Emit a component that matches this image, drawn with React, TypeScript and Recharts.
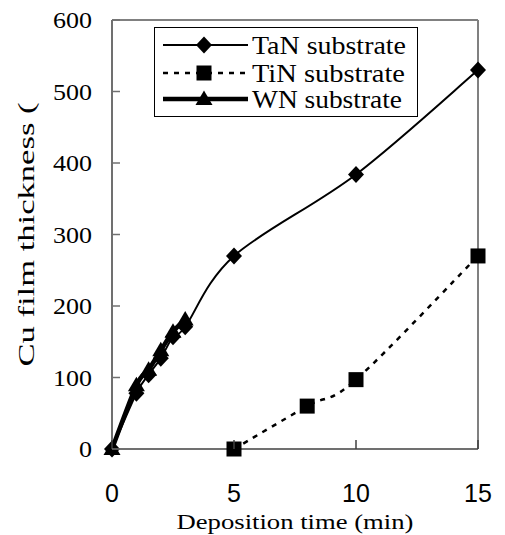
import React from 'react';
import { LineChart, Line, XAxis, YAxis, ReferenceLine, Legend } from 'recharts';

const xTicks = [0, 5, 10, 15];
const yTicks = [0, 100, 200, 300, 400, 500, 600];

const tanTime = [0, 1, 1.5, 2, 2.5, 3, 5, 10, 15];
const tanThickness = [0, 78, 104, 127, 157, 171, 270, 384, 530];

const tinTime = [5, 8, 10, 15];
const tinThickness = [0, 60, 97, 270];

const wnTime = [0, 1, 1.5, 2, 2.5, 3];
const wnThickness = [0, 89, 111, 138, 164, 181];

const toRows = (xs: number[], ys: number[]) => xs.map((t, i) => ({ time: t, thickness: ys[i] }));

const tanData = toRows(tanTime, tanThickness);
const tinData = toRows(tinTime, tinThickness);
const wnData = toRows(wnTime, wnThickness);

// Excel-like smoothed line (uniform Catmull-Rom as cubic Bezier)
function excelSmooth(context: any) {
  let xs: number[] = [];
  let ys: number[] = [];
  return {
    areaStart() {},
    areaEnd() {},
    lineStart() {
      xs = [];
      ys = [];
    },
    point(x: number, y: number) {
      xs.push(+x);
      ys.push(+y);
    },
    lineEnd() {
      const n = xs.length;
      if (n === 0) return;
      context.moveTo(xs[0], ys[0]);
      if (n === 1) return;
      for (let i = 0; i < n - 1; i++) {
        const x0 = i > 0 ? xs[i - 1] : xs[i];
        const y0 = i > 0 ? ys[i - 1] : ys[i];
        const x1 = xs[i];
        const y1 = ys[i];
        const x2 = xs[i + 1];
        const y2 = ys[i + 1];
        const x3 = i + 2 < n ? xs[i + 2] : xs[i + 1];
        const y3 = i + 2 < n ? ys[i + 2] : ys[i + 1];
        context.bezierCurveTo(
          x1 + (x2 - x0) / 6,
          y1 + (y2 - y0) / 6,
          x2 - (x3 - x1) / 6,
          y2 - (y3 - y1) / 6,
          x2,
          y2
        );
      }
    },
  };
}

const AXIS_X = 112;
const AXIS_Y = 449;
const SERIF = "'Liberation Serif', 'DejaVu Serif', serif";
const SANS = "'Liberation Sans', Arial, sans-serif";

const diamondPath = (cx: number, cy: number) =>
  `M${cx},${cy - 8.5}L${cx + 8},${cy}L${cx},${cy + 8.5}L${cx - 8},${cy}Z`;
const trianglePath = (cx: number, cy: number) =>
  `M${cx},${cy - 8.5}L${cx + 8.5},${cy + 6}L${cx - 8.5},${cy + 6}Z`;

const Marker = ({ kind, cx, cy }: { kind: string; cx: number; cy: number }) => {
  if (kind === 'diamond') return <path d={diamondPath(cx, cy)} fill="#000" />;
  if (kind === 'square') return <rect x={cx - 7.5} y={cy - 7.5} width={15} height={15} fill="#000" />;
  return <path d={trianglePath(cx, cy)} fill="#000" />;
};

const makeDot = (kind: string) => (props: any) => {
  const { cx, cy, index } = props;
  if (cx == null || cy == null) return <g key={`d-${kind}-${index}`} />;
  return (
    <g key={`d-${kind}-${index}`}>
      <Marker kind={kind} cx={cx} cy={cy} />
    </g>
  );
};

const series = [
  { name: 'TaN substrate', data: tanData, marker: 'diamond', width: 2, dash: undefined as string | undefined, textLen: 154 },
  { name: 'TiN substrate', data: tinData, marker: 'square', width: 2.5, dash: '5 6', textLen: 153 },
  { name: 'WN substrate', data: wnData, marker: 'triangle', width: 4.5, dash: undefined as string | undefined, textLen: 150 },
];

const YTick = (props: any) => {
  const { y, payload } = props;
  const label = String(payload.value);
  return (
    <g>
      <line x1={AXIS_X} x2={AXIS_X + 8} y1={y} y2={y} stroke="#707070" strokeWidth={1.5} />
      <text
        x={92}
        y={y + 8}
        textAnchor="end"
        fontFamily={SERIF}
        fontSize={23}
        fill="#000"
        textLength={label.length * 13}
        lengthAdjust="spacingAndGlyphs"
      >
        {label}
      </text>
    </g>
  );
};

const XTick = (props: any) => {
  const { x, payload } = props;
  return (
    <g>
      <line x1={x} x2={x} y1={AXIS_Y} y2={AXIS_Y - 9} stroke="#404040" strokeWidth={1.5} />
      <text x={x} y={AXIS_Y + 53} textAnchor="middle" fontFamily={SANS} fontSize={25} fill="#000">
        {String(payload.value)}
      </text>
    </g>
  );
};

const LegendBox = () => {
  const rows = [18, 46, 72];
  return (
    <svg width={264} height={90} style={{ display: 'block' }}>
      <rect x={0.5} y={0.5} width={263} height={89} fill="#fff" stroke="#000" strokeWidth={1} />
      {series.map((s, i) => {
        const cy = rows[i];
        return (
          <g key={s.name}>
            <line
              x1={9}
              x2={94}
              y1={cy}
              y2={cy}
              stroke="#000"
              strokeWidth={s.width}
              strokeDasharray={s.dash}
            />
            <Marker kind={s.marker} cx={50} cy={cy} />
            <text
              x={98}
              y={cy + 9}
              fontFamily={SERIF}
              fontSize={25}
              fill="#000"
              textLength={s.textLen}
              lengthAdjust="spacingAndGlyphs"
            >
              {s.name}
            </text>
          </g>
        );
      })}
    </svg>
  );
};

export default function App() {
  return (
    <div style={{ position: 'absolute', left: 0, top: 0, width: 505, height: 535, background: '#fff' }}>
      <LineChart width={505} height={535} margin={{ top: 20, right: 27, bottom: 0, left: 0 }}>
        <XAxis
          dataKey="time"
          type="number"
          domain={[0, 15]}
          ticks={xTicks}
          height={86}
          axisLine={{ stroke: '#404040', strokeWidth: 1.5 }}
          tickLine={false}
          tick={<XTick />}
          allowDuplicatedCategory={false}
          label={{
            content: (p: any) => {
              const vb = p.viewBox || {};
              const cx = (vb.x ?? AXIS_X) + (vb.width ?? 366) / 2;
              return (
                <text
                  x={cx}
                  y={529}
                  textAnchor="middle"
                  fontFamily={SERIF}
                  fontSize={21}
                  fill="#000"
                  textLength={237}
                  lengthAdjust="spacingAndGlyphs"
                >
                  Deposition time (min)
                </text>
              );
            },
          }}
        />
        <YAxis
          dataKey="thickness"
          type="number"
          domain={[0, 600]}
          ticks={yTicks}
          width={112}
          axisLine={{ stroke: '#707070', strokeWidth: 2 }}
          tickLine={false}
          tick={<YTick />}
          label={{
            content: (p: any) => {
              const vb = p.viewBox || {};
              const cy = (vb.y ?? 20) + (vb.height ?? 429) / 2;
              return (
                <text
                  x={0}
                  y={0}
                  transform={`translate(34, ${cy}) rotate(-90)`}
                  textAnchor="middle"
                  fontFamily={SERIF}
                  fontSize={24}
                  fill="#000"
                  textLength={264}
                  lengthAdjust="spacingAndGlyphs"
                >
                  Cu film thickness (
                </text>
              );
            },
          }}
        />
        <ReferenceLine y={600} stroke="#808080" strokeWidth={2} />
        <ReferenceLine x={15} stroke="#808080" strokeWidth={2} />
        <Legend
          layout="horizontal"
          verticalAlign="middle"
          align="center"
          content={() => <LegendBox />}
          wrapperStyle={{ position: 'absolute', left: 154, top: 27, width: 264, height: 90 }}
        />
        {series.map((s) => (
          <Line
            key={s.name}
            name={s.name}
            data={s.data}
            dataKey="thickness"
            type={excelSmooth as any}
            stroke="#000"
            strokeWidth={s.width}
            strokeDasharray={s.dash}
            dot={makeDot(s.marker)}
            activeDot={false}
            isAnimationActive={false}
          />
        ))}
      </LineChart>
    </div>
  );
}
